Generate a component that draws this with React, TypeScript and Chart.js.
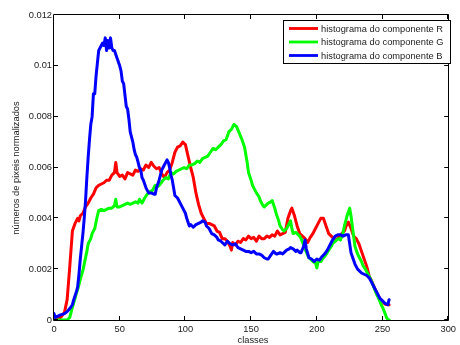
import { useEffect, useRef } from 'react';
import { Chart, registerables } from 'chart.js';

Chart.register(...registerables);

const FONT = '"Liberation Sans", Arial, Helvetica, sans-serif';

// tick labels
const xTickValues = [0, 50, 100, 150, 200, 250, 300];
const yTickValues = [0, 0.002, 0.004, 0.006, 0.008, 0.01, 0.012];
const yTickLabels = ['0', '0.002', '0.004', '0.006', '0.008', '0.01', '0.012'];

const seriesLabels = [
  'histograma do componente R',
  'histograma do componente G',
  'histograma do componente B',
];
const seriesColors = ['#ff0000', '#00ff00', '#0000ff'];

// values are in units of 1e-3 (normalised pixel counts)
const UNIT = 1e-3;

const rClasses = [0, 3, 5, 8, 10, 12, 14, 16, 18, 19, 20, 22, 24, 26, 28, 30, 32, 34, 36, 38, 40, 42, 44, 46, 47, 48, 50, 52, 54, 56, 58, 60, 62, 64, 66, 68, 70, 72, 74, 76, 78, 80, 82, 84, 86, 88, 90, 92, 94, 96, 98, 100, 102, 104, 106, 108, 110, 112, 114, 116, 118, 120, 122, 124, 126, 128, 130, 132, 134, 135, 136, 138, 140, 142, 144, 146, 148, 150, 152, 154, 156, 158, 160, 162, 164, 166, 168, 170, 172, 174, 176, 178, 180, 181, 183, 185, 187, 189, 191, 193, 195, 197, 199, 201, 203, 205, 207, 209, 211, 213, 215, 217, 219, 221, 223, 224, 226, 228, 230, 232, 234, 236, 238, 240, 242, 244, 246, 248, 250, 252, 254, 255];
const rValues = [0.05, 0.05, 0.1, 0.3, 0.8, 2.1, 3.5, 3.8, 4.0, 3.9, 4.1, 4.2, 4.45, 4.6, 4.8, 4.95, 5.2, 5.3, 5.35, 5.4, 5.5, 5.5, 5.7, 5.8, 6.2, 5.8, 5.65, 5.7, 5.55, 5.8, 5.75, 5.7, 5.9, 5.85, 5.95, 5.9, 6.1, 6.0, 6.2, 6.05, 5.95, 6.0, 5.75, 5.6, 5.8, 5.9, 6.2, 6.6, 6.8, 6.85, 7.0, 6.9, 6.45, 6.0, 5.6, 5.0, 4.55, 4.2, 4.0, 3.8, 3.8, 3.75, 3.7, 3.5, 3.45, 3.2, 3.2, 3.1, 2.9, 2.75, 3.05, 2.95, 3.1, 3.05, 3.2, 3.15, 3.3, 3.2, 3.25, 3.1, 3.3, 3.2, 3.2, 3.3, 3.25, 3.35, 3.3, 3.5, 3.35, 3.4, 3.45, 4.0, 4.3, 4.4, 4.1, 3.7, 3.4, 3.3, 3.2, 3.05, 3.25, 3.4, 3.6, 3.8, 4.0, 4.0, 3.7, 3.4, 3.3, 3.2, 3.15, 3.3, 3.4, 3.5, 3.8, 3.85, 3.6, 3.3, 3.2, 3.0, 2.7, 2.4, 2.1, 1.7, 1.5, 1.25, 1.0, 0.85, 0.72, 0.62, 0.6, 0.6];

const gClasses = [0, 5, 10, 12, 14, 16, 17, 18, 20, 22, 23, 25, 26, 28, 29, 31, 32, 33, 34, 36, 38, 40, 42, 44, 45, 46, 47, 48, 50, 52, 54, 56, 58, 60, 62, 64, 65, 67, 69, 71, 73, 75, 77, 79, 81, 83, 85, 87, 89, 91, 93, 95, 97, 99, 101, 103, 105, 107, 109, 111, 113, 115, 117, 119, 121, 123, 125, 127, 129, 131, 133, 135, 137, 139, 141, 143, 145, 147, 148, 150, 151, 153, 154, 156, 157, 159, 160, 162, 163, 165, 166, 168, 169, 171, 172, 174, 175, 177, 178, 180, 181, 182, 184, 185, 187, 188, 190, 191, 193, 194, 196, 197, 199, 200, 201, 203, 205, 206, 208, 209, 211, 212, 214, 215, 217, 218, 220, 221, 223, 225, 226, 227, 228, 229, 231, 232, 234, 235, 237, 238, 240, 241, 243, 244, 246, 247, 249, 250, 252, 253, 254, 255];
const gValues = [0, 0, 0, 0.1, 0.5, 0.85, 1.05, 1.2, 1.6, 1.95, 2.2, 2.7, 3.0, 3.2, 3.4, 3.6, 3.85, 4.1, 4.3, 4.35, 4.3, 4.35, 4.4, 4.4, 4.45, 4.5, 4.75, 4.45, 4.45, 4.5, 4.55, 4.6, 4.55, 4.6, 4.65, 4.6, 4.75, 4.6, 4.8, 4.95, 5.05, 5.1, 5.3, 5.25, 5.35, 5.5, 5.6, 5.55, 5.8, 5.75, 5.85, 5.9, 5.95, 6.0, 5.95, 6.1, 6.1, 6.15, 6.25, 6.2, 6.35, 6.4, 6.45, 6.6, 6.75, 6.7, 6.8, 6.9, 7.05, 7.1, 7.4, 7.5, 7.7, 7.6, 7.35, 7.1, 6.8, 6.2, 5.8, 5.5, 5.3, 5.1, 5.0, 4.85, 4.7, 4.5, 4.45, 4.55, 4.6, 4.65, 4.7, 4.4, 4.2, 3.9, 3.7, 3.55, 3.5, 3.6, 3.7, 3.9, 3.6, 3.4, 3.45, 3.4, 3.3, 3.2, 2.95, 2.8, 2.55, 2.45, 2.35, 2.3, 2.25, 2.05, 2.3, 2.3, 2.45, 2.5, 2.65, 2.75, 2.9, 3.0, 3.1, 3.15, 3.2, 3.15, 3.45, 3.7, 4.1, 4.4, 4.1, 3.7, 3.3, 2.9, 2.6, 2.5, 2.3, 2.15, 2.0, 1.9, 1.7, 1.6, 1.35, 1.2, 0.95, 0.85, 0.6, 0.5, 0.25, 0.1, 0.02, 0];

const bClasses = [0, 1, 3, 5, 8, 10, 12, 14, 15, 17, 18, 19, 20, 21, 22, 23, 24, 25, 26, 27, 28, 29, 30, 31, 32, 33, 34, 35, 36, 37, 38, 39, 40, 41, 42, 43, 44, 45, 46, 48, 50, 51, 52, 53, 55, 56, 57, 58, 60, 61, 62, 63, 64, 65, 66, 67, 68, 70, 72, 74, 76, 77, 78, 80, 82, 83, 85, 86, 87, 88, 89, 90, 91, 92, 94, 95, 97, 98, 100, 101, 102, 103, 104, 106, 108, 110, 112, 113, 115, 116, 118, 120, 122, 124, 125, 127, 129, 130, 132, 134, 136, 138, 140, 142, 144, 146, 148, 150, 152, 154, 156, 158, 160, 162, 163, 165, 167, 169, 170, 172, 174, 175, 177, 179, 180, 182, 184, 185, 187, 188, 190, 191, 192, 194, 196, 198, 200, 202, 204, 206, 208, 210, 212, 214, 216, 218, 220, 222, 224, 225, 226, 228, 229, 231, 232, 234, 236, 238, 240, 242, 244, 246, 248, 250, 252, 254, 255];
const bValues = [0.25, 0.1, 0.15, 0.2, 0.25, 0.33, 0.45, 0.6, 0.8, 1.1, 1.3, 1.8, 2.4, 2.9, 3.4, 4.0, 4.7, 5.6, 6.4, 7.1, 7.7, 8.0, 8.9, 8.9, 9.6, 10.1, 10.6, 10.7, 10.8, 10.9, 10.8, 11.1, 10.6, 11.0, 10.7, 11.1, 10.7, 10.6, 10.6, 10.3, 10.0, 9.8, 9.4, 9.3, 8.4, 8.3, 7.9, 7.4, 7.0, 6.7, 6.5, 6.4, 6.2, 6.0, 5.9, 5.6, 5.5, 5.2, 5.0, 5.0, 4.95, 4.95, 5.2, 5.5, 5.9, 6.0, 6.2, 6.3, 6.2, 6.0, 5.7, 5.5, 5.2, 4.9, 4.8, 4.7, 4.5, 4.4, 4.2, 4.0, 3.85, 3.7, 3.75, 3.65, 3.75, 3.8, 3.85, 3.9, 3.85, 3.7, 3.6, 3.4, 3.35, 3.25, 3.15, 3.1, 3.0, 2.95, 3.1, 3.0, 2.95, 3.0, 2.85, 2.8, 2.75, 2.7, 2.7, 2.65, 2.7, 2.6, 2.6, 2.55, 2.45, 2.4, 2.4, 2.55, 2.7, 2.6, 2.6, 2.65, 2.6, 2.65, 2.75, 2.8, 2.85, 2.8, 2.7, 2.75, 2.65, 2.65, 2.9, 3.15, 2.8, 2.45, 2.4, 2.3, 2.4, 2.35, 2.5, 2.6, 2.75, 2.95, 3.15, 3.3, 3.35, 3.35, 3.3, 3.35, 3.35, 3.0, 2.65, 2.35, 2.2, 2.0, 1.95, 1.85, 1.8, 1.75, 1.65, 1.45, 1.25, 1.05, 0.85, 0.75, 0.65, 0.6, 0.8];

const xTitle = 'classes';
const yTitle = 'números de pixeis normalizados';

const toPoints = (xs: number[], ys: number[]) => xs.map((x, i) => ({ x, y: ys[i] * UNIT }));

const matlabPlugin = {
  id: 'matlabDecor',
  afterDatasetsDraw(chart: any) {
    const { ctx, chartArea } = chart;
    const { left, right, top, bottom } = chartArea;
    const xs = chart.scales.x;
    const ys = chart.scales.y;
    ctx.save();
    // box
    ctx.strokeStyle = '#000';
    ctx.lineWidth = 1;
    ctx.beginPath();
    ctx.rect(Math.round(left) - 0.5, Math.round(top) - 0.5, Math.round(right - left) + 1, Math.round(bottom - top) + 1);
    ctx.stroke();
    // inward ticks
    const tl = 4;
    ctx.beginPath();
    xTickValues.forEach((v) => {
      const px = Math.round(xs.getPixelForValue(v)) - 0.5;
      ctx.moveTo(px, bottom);
      ctx.lineTo(px, bottom - tl);
      ctx.moveTo(px, top);
      ctx.lineTo(px, top + tl);
    });
    yTickValues.forEach((v) => {
      const py = Math.round(ys.getPixelForValue(v)) - 0.5;
      ctx.moveTo(left, py);
      ctx.lineTo(left + tl, py);
      ctx.moveTo(right, py);
      ctx.lineTo(right - tl, py);
    });
    ctx.stroke();

    // legend
    const lx = 283.5, ly = 20.5, lw = 167, lh = 43;
    ctx.fillStyle = '#fff';
    ctx.fillRect(lx, ly, lw, lh);
    ctx.strokeStyle = '#000';
    ctx.lineWidth = 1;
    ctx.strokeRect(lx, ly, lw, lh);
    const rows = [28.5, 42, 55.5];
    ctx.font = `9.3px ${FONT}`;
    ctx.textBaseline = 'middle';
    ctx.textAlign = 'left';
    seriesLabels.forEach((label, i) => {
      ctx.strokeStyle = seriesColors[i];
      ctx.lineWidth = 2.8;
      ctx.beginPath();
      ctx.moveTo(289, rows[i]);
      ctx.lineTo(318, rows[i]);
      ctx.stroke();
      ctx.fillStyle = '#222';
      ctx.fillText(label, 321, rows[i] + 0.5);
    });

    // axis titles
    ctx.fillStyle = '#222';
    ctx.font = `9.3px ${FONT}`;
    ctx.textAlign = 'center';
    ctx.textBaseline = 'middle';
    ctx.fillText(xTitle, 253, 340.5);
    ctx.save();
    ctx.translate(16, 168);
    ctx.rotate(-Math.PI / 2);
    ctx.fillText(yTitle, 0, 0);
    ctx.restore();
    ctx.restore();
  },
};

export default function App() {
  const canvasRef = useRef<HTMLCanvasElement | null>(null);

  useEffect(() => {
    if (!canvasRef.current) return;
    const chart = new Chart(canvasRef.current, {
      type: 'line',
      data: {
        datasets: [
          { label: seriesLabels[0], data: toPoints(rClasses, rValues), borderColor: seriesColors[0], order: 3 },
          { label: seriesLabels[1], data: toPoints(gClasses, gValues), borderColor: seriesColors[1], order: 2 },
          { label: seriesLabels[2], data: toPoints(bClasses, bValues), borderColor: seriesColors[2], order: 1 },
        ],
      },
      options: {
        animation: false,
        responsive: false,
        devicePixelRatio: 1,
        parsing: false,
        elements: {
          line: { borderWidth: 3, tension: 0, borderJoinStyle: 'round', borderCapStyle: 'round' },
          point: { radius: 0, hoverRadius: 0 },
        },
        layout: { padding: { top: 15, right: 6, left: 0, bottom: 0 } },
        plugins: { legend: { display: false }, tooltip: { enabled: false } },
        scales: {
          x: {
            type: 'linear',
            min: 0,
            max: 300,
            afterBuildTicks: (s: any) => { s.ticks = xTickValues.map((v) => ({ value: v })); },
            afterFit: (s: any) => { s.height = 25; },
            grid: { display: false, drawTicks: false },
            border: { display: false },
            ticks: { font: { family: FONT, size: 9.3 }, color: '#222', padding: 4, maxRotation: 0, autoSkip: false },
          },
          y: {
            type: 'linear',
            min: 0,
            max: 0.012,
            afterBuildTicks: (s: any) => { s.ticks = yTickValues.map((v) => ({ value: v })); },
            afterFit: (s: any) => { s.width = 54; },
            grid: { display: false, drawTicks: false },
            border: { display: false },
            ticks: {
              font: { family: FONT, size: 9.3 },
              color: '#222',
              padding: 2,
              autoSkip: false,
              callback: (v: any) => {
                const idx = yTickValues.findIndex((t) => Math.abs(t - Number(v)) < 1e-9);
                return idx >= 0 ? yTickLabels[idx] : '';
              },
            },
          },
        },
      } as any,
      plugins: [matlabPlugin],
    });
    return () => chart.destroy();
  }, []);

  return (
    <div style={{ position: 'fixed', left: 0, top: 0, width: 460, height: 345, background: '#fff' }}>
      <canvas ref={canvasRef} width={460} height={345} style={{ display: 'block' }} />
    </div>
  );
}
